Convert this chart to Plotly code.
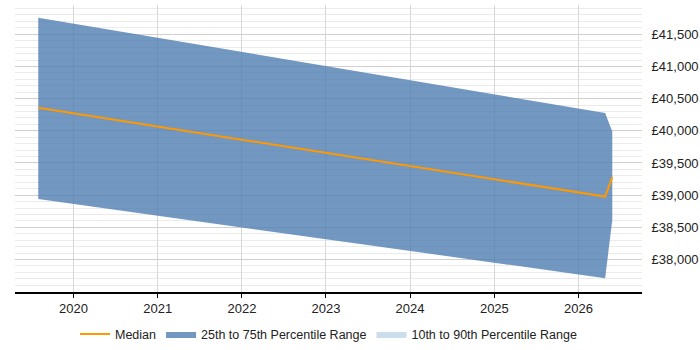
import plotly.graph_objects as go

dates = ["2019-08-01", "2026-04-27", "2026-05-28"]
p25 = [38940, 37710, 38615]
p75 = [41757, 40275, 39990]
median = [40357, 38978, 39280]
year_ticks = ["2020-01-01", "2021-01-01", "2022-01-01", "2023-01-01", "2024-01-01", "2025-01-01", "2026-01-01"]
year_labels = ["2020", "2021", "2022", "2023", "2024", "2025", "2026"]
y_ticks = [38000, 38500, 39000, 39500, 40000, 40500, 41000, 41500]
y_labels = ["£38,000", "£38,500", "£39,000", "£39,500", "£40,000", "£40,500", "£41,000", "£41,500"]

fig = go.Figure()
fig.add_trace(go.Scatter(
    x=dates + dates[::-1], y=p75 + p25[::-1], fill="toself",
    fillcolor="rgba(79,125,178,0.8)", line=dict(width=0, color="rgba(0,0,0,0)"),
    name="25th to 75th Percentile Range", mode="lines", hoverinfo="skip",
    legendrank=2,
))
fig.add_trace(go.Scatter(
    x=dates, y=median, mode="lines", line=dict(color="#FF9900", width=2),
    name="Median", legendrank=1,
))
fig.add_trace(go.Scatter(
    x=[None], y=[None], fill="toself", fillcolor="rgba(204,221,238,1)",
    line=dict(width=0, color="rgba(0,0,0,0)"), mode="lines",
    name="10th to 90th Percentile Range", legendrank=3,
))

fig.update_layout(
    width=700, height=350,
    margin=dict(l=15, r=58, t=5, b=58, autoexpand=False),
    paper_bgcolor="white", plot_bgcolor="white",
    font=dict(family="Liberation Sans, Arial, sans-serif", size=13, color="#222"),
    showlegend=True,
    legend=dict(orientation="h", x=0.5, xanchor="center", y=-0.095, yanchor="top",
                font=dict(size=12.5), traceorder="normal", itemwidth=30),
    xaxis=dict(
        type="date", range=["2019-04-22", "2026-10-04"],
        tickvals=year_ticks, ticktext=year_labels,
        showgrid=True, gridcolor="#d8d8d8", gridwidth=1,
        showline=True, linecolor="#000", linewidth=1.5,
        ticks="outside", ticklen=4, tickcolor="#000",
        zeroline=False, fixedrange=True,
    ),
    yaxis=dict(
        side="right", range=[37495, 41955],
        tickvals=y_ticks, ticktext=y_labels,
        showgrid=True, gridcolor="#d0d0d0", gridwidth=1,
        minor=dict(dtick=100, tick0=0, showgrid=True, gridcolor="#ebebeb", gridwidth=1),
        showline=False, zeroline=False, ticks="outside", ticklen=6, tickcolor="rgba(0,0,0,0)",
        fixedrange=True,
    ),
)

fig.write_html("out.html")
